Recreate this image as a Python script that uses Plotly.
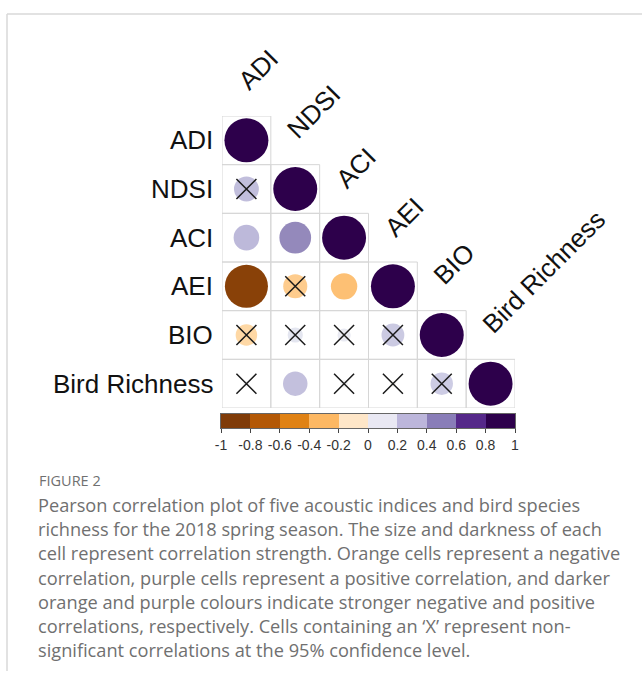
import numpy as np
import plotly.graph_objects as go

# Variables in the correlation matrix (row / column order)
labels = ["ADI", "NDSI", "ACI", "AEI", "BIO", "Bird Richness"]

# Lower-triangle Pearson r, row by row (row i holds columns 0..i)
corr_rows = [
    [1.00],
    [0.32, 1.00],
    [0.34, 0.52, 1.00],
    [-0.96, -0.30, -0.36, 1.00],
    [-0.24, 0.12, 0.09, 0.27, 1.00],
    [0.02, 0.31, 0.03, -0.02, 0.26, 1.00],
]

# 1 = not significant at the 95% level (drawn with an X)
nonsig_rows = [
    [0],
    [1, 0],
    [0, 0, 0],
    [0, 1, 0, 0],
    [1, 1, 1, 1, 0],
    [1, 0, 1, 1, 1, 0],
]

# Colour legend
legend_ticks = [-1, -0.8, -0.6, -0.4, -0.2, 0, 0.2, 0.4, 0.6, 0.8, 1]
legend_ticktext = ["-1", "-0.8", "-0.6", "-0.4", "-0.2", "0", "0.2", "0.4", "0.6", "0.8", "1"]
legend_bin_centers = [-0.9, -0.7, -0.5, -0.3, -0.1, 0.1, 0.3, 0.5, 0.7, 0.9]
legend_bin_colors = ["#7F3B08", "#B35806", "#E08214", "#FDB863", "#FEE6C8",
                     "#E9E8F3", "#BCB6DB", "#897DB8", "#552889", "#2D004B"]

# PuOr diverging palette used for the circles
puor = ["#7F3B08", "#B35806", "#E08214", "#FDB863", "#FEE0B6", "#F7F7F7",
        "#D8DAEB", "#B2ABD2", "#8073AC", "#542788", "#2D004B"]

caption_title = "FIGURE 2"
caption_lines = [
    "Pearson correlation plot of five acoustic indices and bird species",
    "richness for the 2018 spring season. The size and darkness of each",
    "cell represent correlation strength. Orange cells represent a negative",
    "correlation, purple cells represent a positive correlation, and darker",
    "orange and purple colours indicate stronger negative and positive",
    "correlations, respectively. Cells containing an \u2018X\u2019 represent non-",
    "significant correlations at the 95% confidence level.",
]

# ---- page geometry (pixels) ----
W, H = 642, 676
PL, PR, PT, PB = 221, 515, 116, 428          # plot area (matrix + legend bar)
MAT_LEFT = 222
MAT_BOTTOM = 408
BAR_TOP = 414
n = len(labels)
cell_px = (PR - MAT_LEFT) / n
cell_py = (MAT_BOTTOM - PT) / n


def px_x(px):
    return (px - PL) / (PR - PL)


def px_y(py):
    return (PB - py) / (PB - PT)


# ---- flatten the lower triangle ----
xs, ys, rs, xx, xy = [], [], [], [], []
for i, row in enumerate(corr_rows):
    for j, r in enumerate(row):
        xs.append(j)
        ys.append(i)
        rs.append(r)
        if nonsig_rows[i][j]:
            xx.append(j)
            xy.append(i)
rs = np.array(rs)
sizes = 0.9 * cell_px * np.sqrt(np.abs(rs))

colorscale = [[k / (len(puor) - 1), c] for k, c in enumerate(puor)]

fig = go.Figure()

fig.add_trace(go.Scatter(
    x=xs, y=ys, mode="markers",
    marker=dict(size=sizes, color=rs, colorscale=colorscale, cmin=-1, cmax=1,
                line=dict(width=0), opacity=1),
    hoverinfo="skip", showlegend=False, xaxis="x", yaxis="y",
))

fig.add_trace(go.Scatter(
    x=xx, y=xy, mode="markers",
    marker=dict(symbol="x-thin-open", size=20, color="#1a1a1a",
                line=dict(width=1.5, color="#1a1a1a")),
    hoverinfo="skip", showlegend=False, xaxis="x", yaxis="y",
))

# legend bar as a discrete heatmap
disc = []
nb = len(legend_bin_colors)
for k, c in enumerate(legend_bin_colors):
    disc.append([k / nb, c])
    disc.append([(k + 1) / nb, c])
fig.add_trace(go.Heatmap(
    x=legend_bin_centers, y=[0], z=[list(range(nb))],
    colorscale=disc, zmin=-0.5, zmax=nb - 0.5, showscale=False,
    hoverinfo="skip", xaxis="x2", yaxis="y2",
))

shapes = []
# cell outlines of the lower triangle
for i in range(n):
    for j in range(i + 1):
        shapes.append(dict(type="rect", xref="x", yref="y",
                           x0=j - 0.5, x1=j + 0.5, y0=i - 0.5, y1=i + 0.5,
                           line=dict(color="#d6d6d6", width=1), layer="below"))

# page frame
frame_col = "#d9d9d9"
shapes.append(dict(type="line", xref="paper", yref="paper",
                   x0=px_x(7), x1=px_x(W + 5), y0=px_y(14), y1=px_y(14),
                   line=dict(color=frame_col, width=1.5)))
shapes.append(dict(type="line", xref="paper", yref="paper",
                   x0=px_x(7), x1=px_x(7), y0=px_y(14), y1=px_y(671),
                   line=dict(color=frame_col, width=1.5)))

annotations = []
label_font = dict(family="Liberation Sans, Arial, sans-serif", size=26, color="#111111")
# row labels, right-aligned just left of the matrix
for i, lab in enumerate(labels):
    annotations.append(dict(x=px_x(MAT_LEFT - 7), y=px_y(PT + (i + 0.5) * cell_py),
                            xref="paper", yref="paper",
                            text=lab, showarrow=False, xanchor="right", yanchor="middle",
                            font=label_font))
# column labels along the diagonal, rotated 45 degrees
for j, lab in enumerate(labels):
    ax_px = MAT_LEFT + (j + 0.5) * cell_px - 17
    ay_px = PT + j * cell_py - 17
    annotations.append(dict(x=px_x(ax_px), y=px_y(ay_px), xref="paper", yref="paper",
                            text=lab, showarrow=False, xanchor="left", yanchor="bottom",
                            textangle=-45, font=label_font))

# caption
annotations.append(dict(x=px_x(37), y=px_y(480), xref="paper", yref="paper",
                        text=caption_title, showarrow=False, xanchor="left", yanchor="middle",
                        font=dict(family="Open Sans, sans-serif", size=14.5, color="#707070")))
for k, line in enumerate(caption_lines):
    annotations.append(dict(x=px_x(36), y=px_y(505 + 24.2 * k), xref="paper", yref="paper",
                            text=line, showarrow=False, xanchor="left", yanchor="middle",
                            font=dict(family="Open Sans, sans-serif", size=18.2, color="#707070")))

fig.update_layout(
    width=W, height=H,
    margin=dict(l=PL, r=W - PR, t=PT, b=H - PB, pad=0),
    paper_bgcolor="white", plot_bgcolor="rgba(0,0,0,0)",
    xaxis=dict(range=[-0.5, n - 0.5], domain=[px_x(MAT_LEFT), 1], anchor="y",
               showgrid=False, zeroline=False, showticklabels=False, showline=False),
    yaxis=dict(range=[n - 0.5, -0.5], domain=[px_y(MAT_BOTTOM), 1], anchor="x",
               showgrid=False, zeroline=False, showticklabels=False, showline=False),
    xaxis2=dict(range=[-1, 1], domain=[0, 1], anchor="y2",
                tickvals=legend_ticks, ticktext=legend_ticktext,
                ticks="outside", ticklen=4, tickwidth=1, tickcolor="#444444",
                showline=True, mirror=True, linecolor="#666666", linewidth=1,
                showgrid=False, zeroline=False,
                tickfont=dict(family="Liberation Sans, Arial, sans-serif", size=14, color="#333333")),
    yaxis2=dict(range=[-0.5, 0.5], domain=[0, px_y(BAR_TOP)], anchor="x2",
                showticklabels=False, showline=True, mirror=True, linecolor="#666666",
                linewidth=1, showgrid=False, zeroline=False, ticks=""),
    shapes=shapes, annotations=annotations,
)

fig.write_html("out.html")
